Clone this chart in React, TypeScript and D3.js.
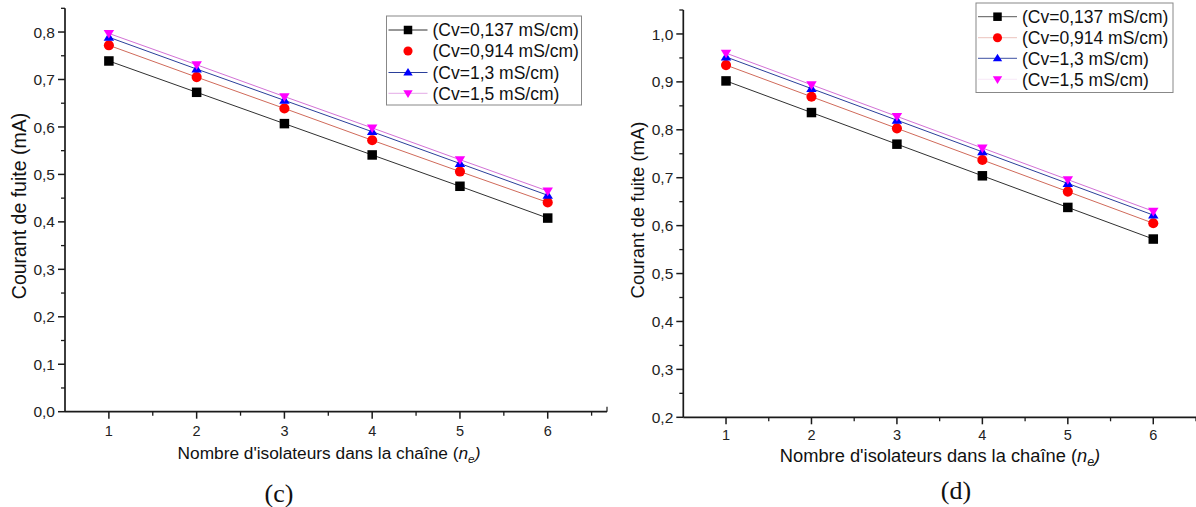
import React from "react";
import * as d3 from "d3";

// ---- data ----
const nValues = [1, 2, 3, 4, 5, 6];
const seriesLabels = ["(Cv=0,137 mS/cm)", "(Cv=0,914 mS/cm)", "(Cv=1,3 mS/cm)", "(Cv=1,5 mS/cm)"];
// panel (c)
const c_cv0137 = [0.739, 0.673, 0.607, 0.541, 0.475, 0.408];
const c_cv0914 = [0.772, 0.705, 0.639, 0.572, 0.506, 0.441];
const c_cv13 = [0.789, 0.722, 0.656, 0.590, 0.523, 0.456];
const c_cv15 = [0.797, 0.731, 0.664, 0.598, 0.531, 0.465];
// panel (d)
const d_cv0137 = [0.902, 0.836, 0.770, 0.704, 0.638, 0.572];
const d_cv0914 = [0.935, 0.869, 0.803, 0.737, 0.671, 0.605];
const d_cv13 = [0.952, 0.886, 0.820, 0.754, 0.688, 0.622];
const d_cv15 = [0.960, 0.894, 0.828, 0.762, 0.696, 0.630];
const cYTicks = [0, 0.1, 0.2, 0.3, 0.4, 0.5, 0.6, 0.7, 0.8];
const dYTicks = [0.2, 0.3, 0.4, 0.5, 0.6, 0.7, 0.8, 0.9, 1.0];
const xTickValues = [1, 2, 3, 4, 5, 6];

const markerColors = ["#000000", "#ff0000", "#0000ff", "#ff00ff"];
const lineColors = ["#303030", "#d06a5a", "#2a3f9a", "#d272d6"];
const markerTypes = ["square", "circle", "triUp", "triDown"];

const FONT = "'Liberation Sans', Arial, sans-serif";

type Panel = {
  series: number[][];
  yDomain: [number, number];
  yTicks: number[];
  xRange: [number, number];
  yRange: [number, number];
  axisEnd: number;
  endTick: boolean;
  xTickBaseline: number;
  xTitle: [number, number];
  xTitleSize: number;
  yTitle: [number, number];
  yTitleSize: number;
  caption: string;
  captionPos: [number, number];
  legend: { x: number; y: number; w: number; h: number; rowY: number[]; lineAlpha: number[] };
};

const panels: Panel[] = [
  {
    series: [c_cv0137, c_cv0914, c_cv13, c_cv15],
    yDomain: [0, 0.85],
    yTicks: cYTicks,
    xRange: [65, 591.6],
    yRange: [411.7, 8.3],
    axisEnd: 607,
    endTick: true,
    xTickBaseline: 436,
    xTitle: [329, 459],
    xTitleSize: 17.3,
    yTitle: [19, 206],
    yTitleSize: 19.5,
    caption: "(c)",
    captionPos: [279, 502],
    legend: { x: 386.5, y: 16, w: 195, h: 89, rowY: [30, 51, 72.5, 93.3], lineAlpha: [1, 0, 1, 0.6] },
  },
  {
    series: [d_cv0137, d_cv0914, d_cv13, d_cv15],
    yDomain: [0.2, 1.05],
    yTicks: dYTicks,
    xRange: [683.3, 1196],
    yRange: [417.3, 10],
    axisEnd: 1196,
    endTick: false,
    xTickBaseline: 440,
    xTitle: [940, 461.5],
    xTitleSize: 18.3,
    yTitle: [638, 210],
    yTitleSize: 18.5,
    caption: "(d)",
    captionPos: [956, 499],
    legend: { x: 976, y: 3, w: 197, h: 89.5, rowY: [16.7, 37.7, 58.3, 79.3], lineAlpha: [0.8, 0.4, 0.9, 0.15] },
  },
];

function Marker({ type, x, y, color, s = 9.5 }: { type: string; x: number; y: number; color: string; s?: number }) {
  if (type === "square") return <rect x={x - s / 2} y={y - s / 2} width={s} height={s} fill={color} />;
  if (type === "circle") return <circle cx={x} cy={y} r={s / 2 + 0.3} fill={color} />;
  const h = s * 0.9;
  const w = s * 1.1;
  if (type === "triUp")
    return <path d={`M${x},${y - h * 0.6}L${x + w / 2},${y + h * 0.4}L${x - w / 2},${y + h * 0.4}Z`} fill={color} />;
  return <path d={`M${x},${y + h * 0.6}L${x + w / 2},${y - h * 0.4}L${x - w / 2},${y - h * 0.4}Z`} fill={color} />;
}

function PanelView({ p }: { p: Panel }) {
  const x = d3.scaleLinear().domain([0.5, 6.5]).range(p.xRange);
  const y = d3.scaleLinear().domain(p.yDomain).range(p.yRange);
  const x0 = p.xRange[0];
  const yBase = p.yRange[0];
  const yTop = p.yRange[1];
  const yMinor = d3.range(p.yDomain[0] + 0.05, p.yDomain[1] + 0.001, 0.1);
  const xMinor = d3.range(1.5, 6.6, 1);
  const line = d3
    .line<number>()
    .x((_, i) => x(nValues[i]))
    .y((v) => y(v));
  const axisColor = "#1a1a1a";
  return (
    <g>
      {p.series.map((s, si) => (
        <path key={"l" + si} d={line(s) || ""} fill="none" stroke={lineColors[si]} strokeWidth={1} />
      ))}
      {p.series.map((s, si) =>
        s.map((v, i) => <Marker key={"m" + si + "-" + i} type={markerTypes[si]} x={x(nValues[i])} y={y(v)} color={markerColors[si]} />)
      )}
      <line x1={x0} x2={x0} y1={yTop} y2={yBase} stroke={axisColor} strokeWidth={1.7} />
      <line x1={x0} x2={p.axisEnd} y1={yBase} y2={yBase} stroke={axisColor} strokeWidth={1.7} />
      {p.endTick && <line x1={p.axisEnd} x2={p.axisEnd} y1={yBase} y2={yBase - 5} stroke={axisColor} strokeWidth={1.2} />}
      {p.yTicks.map((t) => (
        <g key={"yt" + t}>
          <line x1={x0 - 7} x2={x0} y1={y(t)} y2={y(t)} stroke={axisColor} strokeWidth={1.5} />
          <text x={x0 - 10} y={y(t)} dy="0.36em" textAnchor="end" fontFamily={FONT} fontSize={15.5} fill="#222">
            {t.toFixed(1).replace(".", ",")}
          </text>
        </g>
      ))}
      {yMinor.map((t) => (
        <line key={"ym" + t} x1={x0 - 4} x2={x0} y1={y(t)} y2={y(t)} stroke={axisColor} strokeWidth={1.3} />
      ))}
      {xTickValues.map((t) => (
        <g key={"xt" + t}>
          <line x1={x(t)} x2={x(t)} y1={yBase} y2={yBase + 7} stroke={axisColor} strokeWidth={1.5} />
          <text x={x(t)} y={p.xTickBaseline} textAnchor="middle" fontFamily={FONT} fontSize={14.5} fill="#222">
            {t}
          </text>
        </g>
      ))}
      {xMinor.map((t) => (
        <line key={"xm" + t} x1={x(t)} x2={x(t)} y1={yBase} y2={yBase + 4} stroke={axisColor} strokeWidth={1.3} />
      ))}
      <text x={p.xTitle[0]} y={p.xTitle[1]} textAnchor="middle" fontFamily={FONT} fontSize={p.xTitleSize} fill="#111">
        Nombre d'isolateurs dans la chaîne (<tspan fontStyle="italic">n</tspan>
        <tspan fontStyle="italic" fontSize={p.xTitleSize * 0.68} dy={4}>e</tspan>
        <tspan dy={-4} fontStyle="italic">)</tspan>
      </text>
      <text
        transform={`translate(${p.yTitle[0]},${p.yTitle[1]}) rotate(-90)`}
        textAnchor="middle"
        dy="0.35em"
        fontFamily={FONT}
        fontSize={p.yTitleSize}
        fill="#111"
      >
        Courant de fuite (mA)
      </text>
      <text x={p.captionPos[0]} y={p.captionPos[1]} textAnchor="middle" fontFamily="'Liberation Serif', 'Times New Roman', serif" fontSize={26} fill="#111">
        {p.caption}
      </text>
      <rect x={p.legend.x} y={p.legend.y} width={p.legend.w} height={p.legend.h} fill="#fff" stroke="#888" strokeWidth={1} />
      {seriesLabels.map((lab, i) => {
        const ry = p.legend.rowY[i];
        const lx = p.legend.x + 2;
        return (
          <g key={"lg" + i}>
            <line x1={lx} x2={lx + 39} y1={ry} y2={ry} stroke={lineColors[i]} strokeWidth={1} opacity={p.legend.lineAlpha[i]} />
            <Marker type={markerTypes[i]} x={lx + 19.5} y={ry} color={markerColors[i]} s={8.5} />
            <text x={lx + 44} y={ry} dy="0.36em" fontFamily={FONT} fontSize={17.5} fill="#111">
              {lab}
            </text>
          </g>
        );
      })}
    </g>
  );
}

export default function App() {
  return (
    <svg
      width={1196}
      height={507}
      viewBox="0 0 1196 507"
      style={{ position: "absolute", left: 0, top: 0, background: "#fff" }}
    >
      <rect width={1196} height={507} fill="#fff" />
      {panels.map((p, i) => (
        <PanelView key={i} p={p} />
      ))}
    </svg>
  );
}
